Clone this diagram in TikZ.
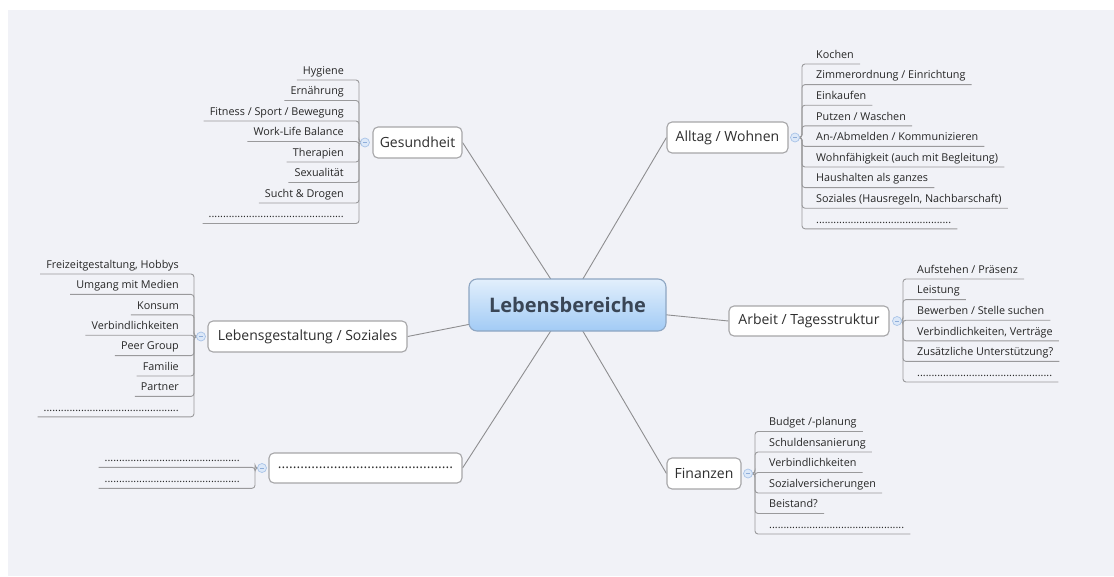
\documentclass[tikz,border=0pt]{standalone}
\usepackage{fontspec}
\setmainfont{Open Sans}
\usetikzlibrary{calc}
\pgfdeclarelayer{bgl}
\pgfdeclarelayer{lines}
\pgfsetlayers{bgl,lines,main}
\definecolor{bggray}{HTML}{F1F2F7}
\definecolor{topicborder}{HTML}{A6A6A8}
\definecolor{topictext}{HTML}{2E2E2E}
\definecolor{kidtext}{HTML}{262626}
\definecolor{conncol}{HTML}{8E8E90}
\definecolor{branchcol}{HTML}{9A9A9C}
\definecolor{knobfill}{HTML}{DCE8F8}
\definecolor{knobdraw}{HTML}{A9C4E8}
\definecolor{knobdash}{HTML}{8FAEDA}
\definecolor{ctrtop}{HTML}{E2EFFC}
\definecolor{ctrbot}{HTML}{A2CBF5}
\definecolor{ctrborder}{HTML}{8EA6C2}
\definecolor{ctrtext}{HTML}{3A4656}
\newcommand\dotline{...............................................}
\begin{document}
\begin{tikzpicture}[x=1pt,y=-1pt,
 topic/.style={draw=topicborder, line width=1.1pt, fill=white, rounded corners=5pt,
   minimum height=31pt, inner sep=0pt, font=\fontsize{14}{16}\selectfont, text=topictext},
 centre/.style={draw=ctrborder, line width=1.1pt, rounded corners=8pt, top color=ctrtop,
   bottom color=ctrbot, minimum width=197pt, minimum height=52pt, inner sep=0pt,
   font=\fontsize{20}{24}\selectfont\bfseries, text=ctrtext},
 conn/.style={draw=conncol, line width=0.9pt},
 branch/.style={draw=branchcol, line width=0.9pt, rounded corners=3pt},
 kidbase/.style={inner xsep=0pt, inner ysep=5.5pt, text depth=0pt, text height=8pt,
   font=\fontsize{10.8}{13}\selectfont, text=kidtext},
 lkid/.style={kidbase, anchor=south east, execute at begin node={\kern6pt},
   execute at end node={\kern15pt}},
 rkid/.style={kidbase, anchor=south west, execute at begin node={\kern14pt},
   execute at end node={\kern6pt}},
 knob/.style={circle, minimum size=9pt, inner sep=0pt, fill=knobfill, draw=knobdraw,
   line width=0.7pt, path picture={\draw[knobdash, line width=0.8pt]
   ([xshift=-2.2pt]path picture bounding box.center) --
   ([xshift=2.2pt]path picture bounding box.center);}}
]
\useasboundingbox (0,0) rectangle (1114,576);
\begin{pgfonlayer}{bgl}
\fill[white] (0,0) rectangle (1114,576);
\fill[bggray] (8,10) rectangle (1114,576);
\end{pgfonlayer}

% central and main topics
\node[centre] (ctr) at (567.5,305) {Lebensbereiche};
\node[topic, minimum width=89pt] (gs) at (417.5,142.5) {Gesundheit};
\node[topic, minimum width=121pt] (aw) at (727.5,137.5) {Alltag / Wohnen};
\node[topic, minimum width=160pt, minimum height=30pt] (at) at (809,321) {Arbeit / Tagesstruktur};
\node[topic, minimum width=74pt] (fi) at (704,473.5) {Finanzen};
\node[topic, minimum width=199pt] (ls) at (307.5,336.5) {Lebensgestaltung / Soziales};
\node[topic, minimum width=193pt, minimum height=30pt] (dt) at (365.5,468) {\dotline};

% knobs
\node[knob] (kg) at (365,142.5) {};
\node[knob] (ka) at (795,137.5) {};
\node[knob] (kb) at (897,321) {};
\node[knob] (kf) at (748,473.5) {};
\node[knob] (kl) at (201,336.5) {};
\node[knob] (kd) at (262,468) {};

% Gesundheit children
\node[lkid] (g1) at (359,80) {Hygiene};
\node[lkid] (g2) at (359,100.5) {Ernährung};
\node[lkid] (g3) at (359,121) {Fitness / Sport / Bewegung};
\node[lkid] (g4) at (359,141.5) {Work-Life Balance};
\node[lkid] (g5) at (359,162) {Therapien};
\node[lkid] (g6) at (359,182.5) {Sexualität};
\node[lkid] (g7) at (359,203) {Sucht \& Drogen};
\node[lkid] (g8) at (359,223.5) {\dotline};

% Alltag children
\node[rkid] (a1) at (802,64) {Kochen};
\node[rkid] (a2) at (802,84.6) {Zimmerordnung / Einrichtung};
\node[rkid] (a3) at (802,105.2) {Einkaufen};
\node[rkid] (a4) at (802,125.8) {Putzen / Waschen};
\node[rkid] (a5) at (802,146.4) {An-/Abmelden / Kommunizieren};
\node[rkid] (a6) at (802,167) {Wohnfähigkeit (auch mit Begleitung)};
\node[rkid] (a7) at (802,187.6) {Haushalten als ganzes};
\node[rkid] (a8) at (802,208.2) {Soziales (Hausregeln, Nachbarschaft)};
\node[rkid] (a9) at (802,228.8) {\dotline};

% Arbeit children
\node[rkid] (b1) at (903,279) {Aufstehen / Präsenz};
\node[rkid] (b2) at (903,299.6) {Leistung};
\node[rkid] (b3) at (903,320.2) {Bewerben / Stelle suchen};
\node[rkid] (b4) at (903,340.8) {Verbindlichkeiten, Verträge};
\node[rkid] (b5) at (903,361.4) {Zusätzliche Unterstützung?};
\node[rkid] (b6) at (903,382) {\dotline};

% Finanzen children
\node[rkid] (f1) at (755,431.5) {Budget /-planung};
\node[rkid] (f2) at (755,452) {Schuldensanierung};
\node[rkid] (f3) at (755,472.5) {Verbindlichkeiten};
\node[rkid] (f4) at (755,493) {Sozialversicherungen};
\node[rkid] (f5) at (755,513.5) {Beistand?};
\node[rkid] (f6) at (755,534) {\dotline};

% Lebensgestaltung children
\node[lkid] (l1) at (194,274) {Freizeitgestaltung, Hobbys};
\node[lkid] (l2) at (194,294.4) {Umgang mit Medien};
\node[lkid] (l3) at (194,314.8) {Konsum};
\node[lkid] (l4) at (194,335.2) {Verbindlichkeiten};
\node[lkid] (l5) at (194,355.6) {Peer Group};
\node[lkid] (l6) at (194,376) {Familie};
\node[lkid] (l7) at (194,396.4) {Partner};
\node[lkid] (l8) at (194,416.8) {\dotline};

% dots branch children
\node[lkid] (d1) at (255,467.3) {\dotline};
\node[lkid] (d2) at (255,488.3) {\dotline};

\begin{pgfonlayer}{lines}
\draw[conn] (ctr.center) -- (gs.east);
\draw[conn] (ctr.center) -- (aw.west);
\draw[conn] (ctr.center) -- (at.west);
\draw[conn] (ctr.center) -- (fi.west);
\draw[conn] (ctr.center) -- (ls.east);
\draw[conn] (ctr.center) -- (dt.east);
\foreach \n in {g1,g2,g3,g4,g5,g6,g7,g8}
  \draw[branch] (kg.center) -| (\n.south east) -- (\n.south west);
\foreach \n in {a1,a2,a3,a4,a5,a6,a7,a8,a9}
  \draw[branch] (ka.center) -| (\n.south west) -- (\n.south east);
\foreach \n in {b1,b2,b3,b4,b5,b6}
  \draw[branch] (kb.center) -| (\n.south west) -- (\n.south east);
\foreach \n in {f1,f2,f3,f4,f5,f6}
  \draw[branch] (kf.center) -| (\n.south west) -- (\n.south east);
\foreach \n in {l1,l2,l3,l4,l5,l6,l7,l8}
  \draw[branch] (kl.center) -| (\n.south east) -- (\n.south west);
\foreach \n in {d1,d2}
  \draw[branch] (kd.center) -| (\n.south east) -- (\n.south west);
\end{pgfonlayer}
\end{tikzpicture}
\end{document}
